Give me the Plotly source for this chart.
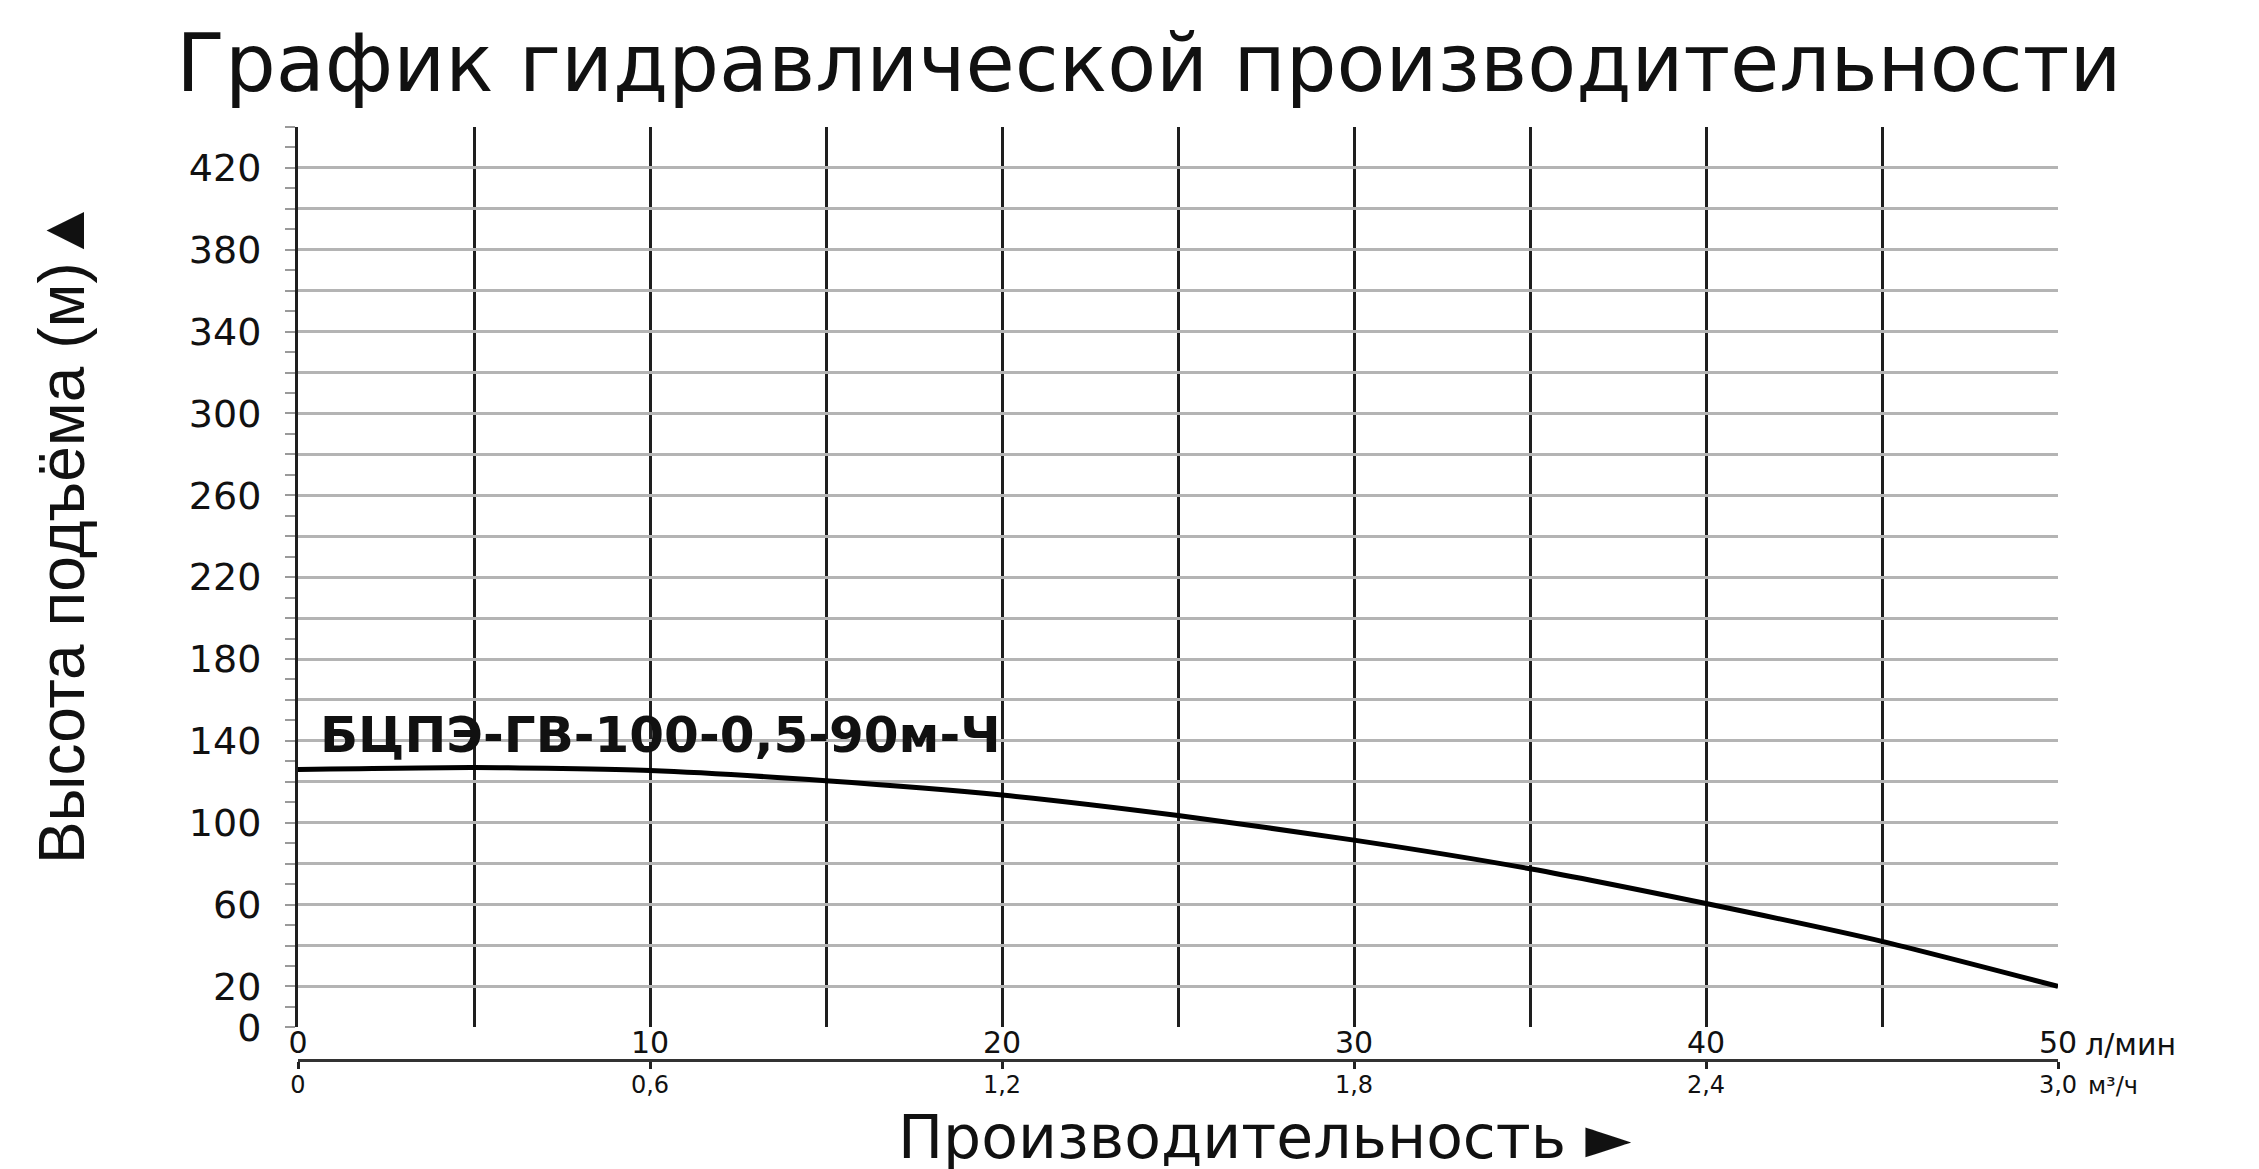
"""
Hydraulic performance chart for БЦПЭ-ГВ-100-0,5-90м-Ч pump.
"""
import plotly.graph_objects as go

# Curve (flow in l/min, head in m)
flow_lpm = [0, 5, 10, 15, 20, 25, 30, 35, 40, 45, 50]
head_m = [126, 127, 125.5, 120.5, 113.5, 103.5, 91.5, 77.5, 60.5, 42, 20]

# Axis ticks
x_tick_vals = [0, 5, 10, 15, 20, 25, 30, 35, 40, 45, 50]
x_tick_text = ["0", "", "10", "", "20", "", "30", "", "40", "", "50"]
m3h_tick_vals = [0, 0.6, 1.2, 1.8, 2.4, 3.0]
m3h_tick_text = ["0", "0,6", "1,2", "1,8", "2,4", "3,0"]
y_tick_vals = list(range(0, 441, 20))
y_tick_text = ["0", "20", "", "60", "", "100", "", "140", "", "180", "", "220",
               "", "260", "", "300", "", "340", "", "380", "", "420", ""]

model_name = "БЦПЭ-ГВ-100-0,5-90м-Ч"

FONT = "DejaVu Sans"
colors = {
    "curve": "#000000",
    "vgrid": "#1e1e1e",
    "hgrid": "#b4b4b4",
    "text": "#111111",
}

fig = go.Figure()

fig.add_trace(
    go.Scatter(
        x=flow_lpm,
        y=head_m,
        mode="lines",
        line=dict(color=colors["curve"], width=5, shape="spline", smoothing=0.6),
        showlegend=False,
        hoverinfo="skip",
    )
)

# Empty trace so the second (m³/h) axis gets drawn
fig.add_trace(
    go.Scatter(
        x=m3h_tick_vals,
        y=[None] * len(m3h_tick_vals),
        xaxis="x2",
        mode="lines",
        showlegend=False,
        hoverinfo="skip",
    )
)

fig.update_layout(
    width=2259,
    height=1169,
    paper_bgcolor="#FFFFFF",
    plot_bgcolor="#FFFFFF",
    font=dict(family=FONT, color=colors["text"]),
    showlegend=False,
    margin=dict(l=290, r=209, t=119, b=117),
    title=dict(
        text="График гидравлической производительности",
        font=dict(family=FONT, size=80, color=colors["text"]),
        x=0.505,
        xanchor="center",
        y=0.953,
        yanchor="middle",
    ),
    xaxis=dict(
        range=[0, 50],
        tickmode="array",
        tickvals=x_tick_vals,
        ticktext=x_tick_text,
        ticks="",
        ticklabelstandoff=-5,
        tickfont=dict(size=30),
        showgrid=True,
        gridcolor=colors["vgrid"],
        gridwidth=2.5,
        zeroline=False,
        showline=False,
        anchor="y",
    ),
    xaxis2=dict(
        range=[0, 3.0],
        overlaying="x",
        anchor="free",
        position=0,
        side="bottom",
        tickmode="array",
        tickvals=m3h_tick_vals,
        ticktext=m3h_tick_text,
        ticks="outside",
        ticklen=7,
        tickwidth=3,
        tickcolor="#222222",
        ticklabelstandoff=-5,
        tickfont=dict(size=24),
        showgrid=False,
        zeroline=False,
        showline=True,
        linecolor="#333333",
        linewidth=3,
    ),
    yaxis=dict(
        range=[0, 440],
        domain=[0.035, 1],
        tickmode="array",
        tickvals=y_tick_vals,
        ticktext=y_tick_text,
        ticks="outside",
        ticklen=10,
        tickwidth=2,
        tickcolor="#9a9a9a",
        ticklabelstandoff=16,
        tickfont=dict(size=38),
        minor=dict(tickmode="linear", tick0=0, dtick=10, ticks="outside",
                   ticklen=10, tickwidth=2, tickcolor="#9a9a9a", showgrid=False),
        showgrid=True,
        gridcolor=colors["hgrid"],
        gridwidth=3,
        zeroline=False,
        showline=True,
        linecolor="#1e1e1e",
        linewidth=3,
    ),
)

# Model label over the curve
fig.add_annotation(
    x=0, y=143, xref="x", yref="y",
    text=f"<b>{model_name}</b>",
    showarrow=False, xanchor="left", yanchor="middle", xshift=20,
    font=dict(family="DejaVu Sans", size=50, color="#111111"),
)

# Units next to the last ticks
fig.add_annotation(
    x=1.014, y=0.017, xref="paper", yref="paper",
    text="л/мин", showarrow=False, xanchor="left", yanchor="middle",
    font=dict(family=FONT, size=30, color=colors["text"]),
)
fig.add_annotation(
    x=1.016, y=-0.028, xref="paper", yref="paper",
    text="м³/ч", showarrow=False, xanchor="left", yanchor="middle",
    font=dict(family=FONT, size=24, color=colors["text"]),
)

# Axis titles
fig.add_annotation(
    x=0.549, y=-0.083, xref="paper", yref="paper",
    text="Производительность ►", showarrow=False,
    xanchor="center", yanchor="middle",
    font=dict(family=FONT, size=60, color=colors["text"]),
)
fig.add_annotation(
    x=-0.134, y=0.566, xref="paper", yref="paper",
    text="Высота подъёма (м)▲", showarrow=False, textangle=-90,
    xanchor="center", yanchor="middle",
    font=dict(family="Liberation Sans", size=64, color=colors["text"]),
)

fig.write_html("out.html")
